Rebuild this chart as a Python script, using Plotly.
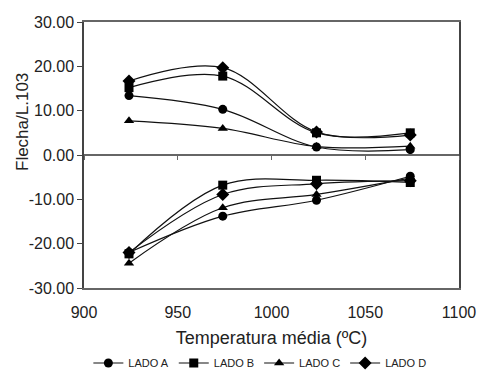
import plotly.graph_objects as go

temps = [924, 974, 1024, 1074]

lado_a_pos = [13.4, 10.3, 1.8, 1.2]
lado_b_pos = [15.2, 17.8, 5.0, 5.0]
lado_c_pos = [7.7, 6.0, 1.9, 2.0]
lado_d_pos = [16.7, 19.7, 5.2, 4.5]

lado_a_neg = [-22.0, -13.8, -10.2, -4.8]
lado_b_neg = [-22.3, -6.8, -5.7, -6.2]
lado_c_neg = [-24.4, -11.9, -8.9, -5.2]
lado_d_neg = [-22.0, -8.9, -6.5, -5.8]

y_ticks = [-30, -20, -10, 0, 10, 20, 30]
y_ticktext = ["%.2f" % v for v in y_ticks]

names = ["LADO A", "LADO B", "LADO C", "LADO D"]
symbols = ["circle", "square", "triangle-up", "diamond"]
sizes = [9, 9, 9, 10]
pos_series = [lado_a_pos, lado_b_pos, lado_c_pos, lado_d_pos]
neg_series = [lado_a_neg, lado_b_neg, lado_c_neg, lado_d_neg]

FONT = "Liberation Sans, Arial, sans-serif"

fig = go.Figure()
for name, sym, sz, pos, neg in zip(names, symbols, sizes, pos_series, neg_series):
    for i, vals in enumerate([pos, neg]):
        fig.add_trace(go.Scatter(
            x=temps, y=vals, name=name, legendgroup=name, showlegend=(i == 0),
            mode="lines+markers",
            line=dict(color="#111", width=1.2, shape="spline", smoothing=1.0),
            marker=dict(symbol=sym, size=sz, color="#000"),
        ))

# x-axis line with ticks at y = 0
fig.add_trace(go.Scatter(x=[900, 1100], y=[0, 0], xaxis="x2", mode="lines",
                         line=dict(color="rgba(0,0,0,0)"), showlegend=False,
                         hoverinfo="skip"))

fig.update_layout(
    width=479, height=370,
    margin=dict(l=84, r=20, t=22, b=82, autoexpand=False),
    paper_bgcolor="white", plot_bgcolor="white",
    font=dict(family=FONT, color="#222"),
    showlegend=True,
    legend=dict(orientation="h", xref="container", yref="container",
                x=0.5425, xanchor="center", y=7 / 370, yanchor="middle",
                font=dict(size=11, family=FONT, color="#222"),
                itemwidth=30, tracegroupgap=0),
    xaxis=dict(range=[900, 1100], dtick=50, tick0=900, automargin=False,
               showgrid=False, zeroline=False, ticklabelstandoff=9,
               showline=True, linecolor="#666", linewidth=1.5, mirror=True,
               ticks="", tickfont=dict(size=16, color="#222"),
               title=dict(text="Temperatura média (ºC)", font=dict(size=18, color="#222"), standoff=11)),
    xaxis2=dict(range=[900, 1100], dtick=50, tick0=900, overlaying="x",
                anchor="free", position=0.5, side="bottom", automargin=False,
                showline=True, linecolor="#666", linewidth=1.5,
                ticks="outside", ticklen=4, tickcolor="#666",
                showticklabels=False, showgrid=False, zeroline=False),
    yaxis=dict(range=[-30, 30], tickvals=y_ticks, ticktext=y_ticktext, automargin=False,
               showgrid=False, zeroline=False,
               showline=True, linecolor="#444", linewidth=1.5, mirror=True,
               ticks="outside", ticklen=5, tickcolor="#444",
               tickfont=dict(size=16, color="#222")),
    annotations=[dict(text="Flecha/L.103", textangle=-90, xref="paper", yref="paper",
                      x=(22 - 84) / 375, y=(288 - 122) / 266, xanchor="center", yanchor="middle",
                      showarrow=False, font=dict(size=17, color="#222", family=FONT))],
)

fig.write_html("out.html", config={"displayModeBar": False},
               post_script="document.body.style.margin='0';document.body.style.padding='0';")
